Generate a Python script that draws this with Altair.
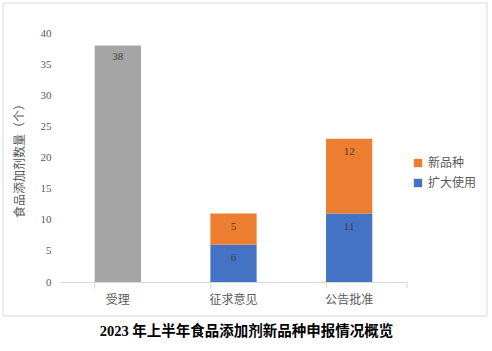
import altair as alt
import pandas as pd

categories = ["受理", "征求意见", "公告批准"]
total_category = ["受理"]
total_values = [38]
series_names = ["新品种", "扩大使用"]
stack_categories = ["征求意见", "公告批准"]
new_variety = [5, 12]
expanded_use = [6, 11]
y_title = "食品添加剂数量（个）"

colors = ["#ED7D31", "#4472C4"]
gray = "#A5A5A5"

df_total = pd.DataFrame({"category": total_category, "value": total_values})
rows = []
for i, c in enumerate(stack_categories):
    rows.append({"category": c, "series": "扩大使用", "value": expanded_use[i], "ord": 0})
    rows.append({"category": c, "series": "新品种", "value": new_variety[i], "ord": 1})
df_stack = pd.DataFrame(rows)

x_scale = alt.Scale(domain=categories, paddingInner=0.6, paddingOuter=0.3)
y_scale = alt.Scale(domain=[0, 40], nice=False)


def xe():
    return alt.X("category:N", sort=categories, scale=x_scale, title=None)


gray_bar = alt.Chart(df_total).mark_bar(color=gray).encode(
    x=xe(),
    y=alt.Y("value:Q", scale=y_scale, title=y_title),
)
gray_text = alt.Chart(df_total).mark_text(
    dy=12, baseline="middle", font="Liberation Serif", fontSize=11, color="#404040"
).encode(x=xe(), y=alt.Y("value:Q", scale=y_scale, title=y_title), text="value:Q")

stack_bar = alt.Chart(df_stack).mark_bar().encode(
    x=xe(),
    y=alt.Y("value:Q", stack="zero", scale=y_scale, title=y_title),
    color=alt.Color(
        "series:N",
        scale=alt.Scale(domain=series_names, range=colors),
        legend=alt.Legend(
            title=None, orient="none", legendX=352, legendY=124, symbolType="square",
            symbolSize=70, labelFont="Noto Sans CJK SC", labelFontSize=12,
            labelColor="#595959", rowPadding=8, symbolStrokeWidth=0,
        ),
    ),
    order=alt.Order("ord:Q"),
)
stack_text = alt.Chart(df_stack).transform_stack(
    stack="value", groupby=["category"], as_=["v0", "v1"], sort=[alt.SortField("ord")]
).mark_text(
    dy=13, baseline="middle", font="Liberation Serif", fontSize=11, color="#404040"
).encode(x=xe(), y=alt.Y("v1:Q", scale=y_scale, title=y_title), text="value:Q")

one = pd.DataFrame({"a": [0]})
frame_style = dict(color="#D9D9D9", strokeWidth=1)
f_top = alt.Chart(one).mark_rule(**frame_style).encode(
    x=alt.value(-57), x2=alt.value(427), y=alt.value(-30))
f_bottom = alt.Chart(one).mark_rule(**frame_style).encode(
    x=alt.value(-57), x2=alt.value(427), y=alt.value(283))
f_left = alt.Chart(one).mark_rule(**frame_style).encode(
    x=alt.value(-57), y=alt.value(-30), y2=alt.value(283))
f_right = alt.Chart(one).mark_rule(**frame_style).encode(
    x=alt.value(427), y=alt.value(-30), y2=alt.value(283))
end_tick = alt.Chart(one).mark_rule(**frame_style).encode(
    x=alt.value(347), y=alt.value(249), y2=alt.value(255))

chart = alt.layer(
    gray_bar, stack_bar, gray_text, stack_text, f_top, f_bottom, f_left, f_right, end_tick
).properties(
    width=347,
    height=249,
    padding={"left": 60, "top": 33, "right": 85, "bottom": 69},
    autosize=alt.AutoSizeParams(type="none"),
    title=alt.TitleParams(
        "2023 年上半年食品添加剂新品种申报情况概览", orient="bottom", anchor="middle",
        font="Liberation Serif, Noto Sans CJK SC", fontSize=14.5, fontWeight="bold",
        color="#000000", offset=8, dx=13,
    ),
).configure(
    background="white",
    view=alt.ViewConfig(strokeWidth=0),
    axis=alt.AxisConfig(grid=False),
    axisY=alt.AxisConfig(
        tickCount=8, labelOverlap=False, domain=False, ticks=False, grid=False,
        labelFont="Liberation Serif", labelFontSize=11, labelColor="#595959",
        labelPadding=9, titleFont="Noto Sans CJK SC", titleFontSize=12,
        titleColor="#595959", titleFontWeight="normal", titlePadding=14,
    ),
    axisX=alt.AxisConfig(
        labelAngle=0, bandPosition=0, domainColor="#D9D9D9", tickColor="#D9D9D9",
        tickSize=6, labelColor="#595959", labelFontSize=12, labelFont="Noto Sans CJK SC",
        labelPadding=6, grid=False, labelBound=False,
    ),
)

chart.save("out.html", embed_options={"renderer": "svg", "actions": False})
